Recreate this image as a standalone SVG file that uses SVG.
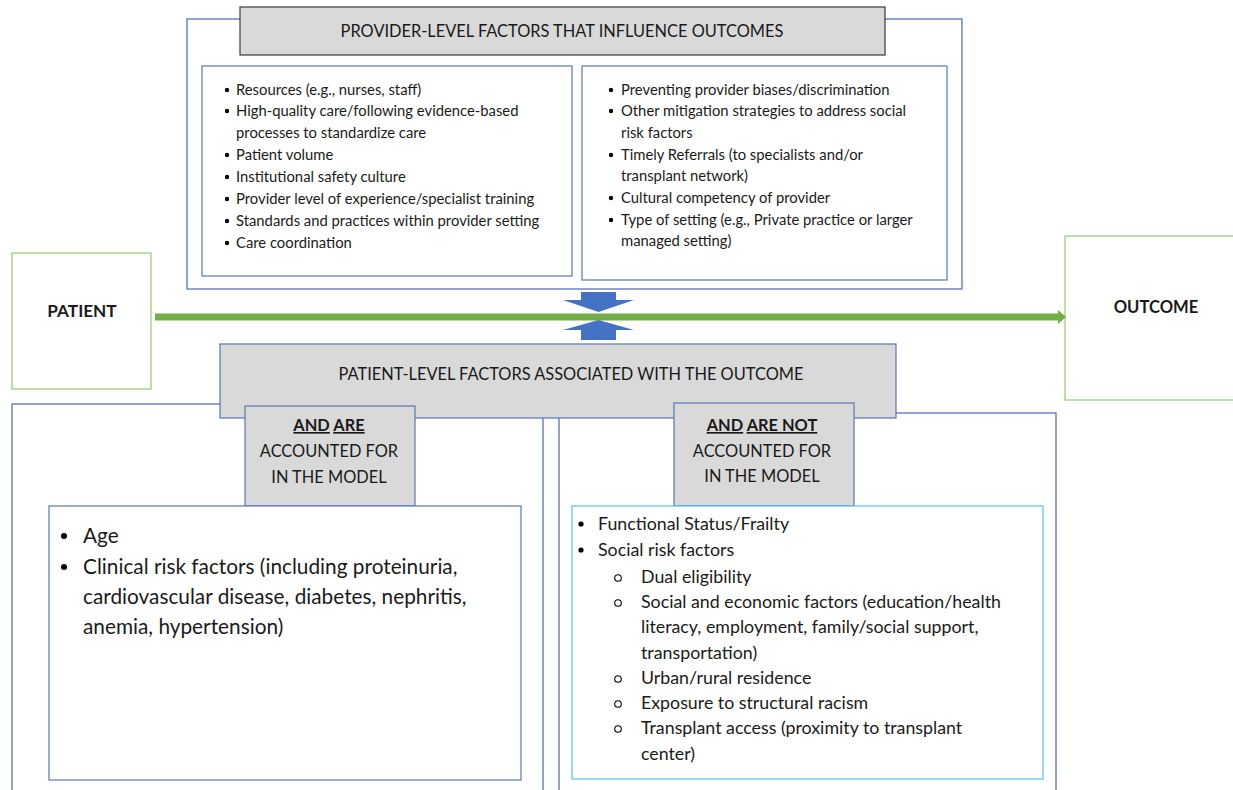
<svg xmlns="http://www.w3.org/2000/svg" width="1233" height="790" viewBox="0 0 1233 790">
<style>
text{font-family:Lato,"Liberation Sans",sans-serif;fill:#1a1a1a}
.outer{fill:#fff;stroke:#4a66ac;stroke-width:1.2}
.inner{fill:#fff;stroke:#5b76b4;stroke-width:1.2}
.hdr{fill:#d9d9d9;stroke:#5b76b4;stroke-width:1.2}
.thdr{fill:#d9d9d9;stroke:#3a3a3a;stroke-width:1.2}
.grn{fill:#fff;stroke:#92c86e;stroke-width:1.2}
.s13{font-size:14.8px}
.s15{font-size:16.4px}
.s16{font-size:16.4px}
.s17{font-size:17.8px}
.s19{font-size:20.8px}
.b{font-weight:bold}
.c{text-anchor:middle}
.u{text-decoration:underline}
</style>
<defs>
<g id="dot13"><circle r="2.2" fill="#000"/></g>
</defs>

<g id="provider">
<rect class="outer" x="187" y="19" width="775" height="270"/>
<rect class="thdr" x="240" y="7" width="645" height="48"/>
<text class="s15 c" x="562" y="37">PROVIDER-LEVEL FACTORS THAT INFLUENCE OUTCOMES</text>
</g>

<g id="provider-left">
<rect class="inner" x="202" y="66" width="370" height="210"/>
<g class="s13">
<use href="#dot13" x="227" y="90"/><text x="236" y="95">Resources (e.g., nurses, staff)</text>
<use href="#dot13" x="227" y="111"/><text x="236" y="116">High-quality  care/following evidence-based</text>
<text x="236" y="138">processes to standardize care</text>
<use href="#dot13" x="227" y="155"/><text x="236" y="160">Patient volume</text>
<use href="#dot13" x="227" y="177"/><text x="236" y="182">Institutional  safety culture</text>
<use href="#dot13" x="227" y="199"/><text x="236" y="204">Provider level of experience/specialist training</text>
<use href="#dot13" x="227" y="221"/><text x="236" y="226">Standards and practices within provider setting</text>
<use href="#dot13" x="227" y="243"/><text x="236" y="248">Care coordination</text>
</g>
</g>

<g id="provider-right">
<rect class="inner" x="582" y="66" width="365" height="214"/>
<g class="s13">
<use href="#dot13" x="611" y="90"/><text x="621" y="95">Preventing provider biases/discrimination</text>
<use href="#dot13" x="611" y="111"/><text x="621" y="116">Other mitigation  strategies to address social</text>
<text x="621" y="138">risk factors</text>
<use href="#dot13" x="611" y="155"/><text x="621" y="160">Timely Referrals (to specialists and/or</text>
<text x="621" y="181">transplant network)</text>
<use href="#dot13" x="611" y="198"/><text x="621" y="203">Cultural competency of provider</text>
<use href="#dot13" x="611" y="220"/><text x="621" y="225">Type of setting (e.g., Private practice or larger</text>
<text x="621" y="246">managed setting)</text>
</g>
</g>

<g id="patient">
<rect class="grn" x="12" y="253" width="139" height="136"/>
<text class="b c" style="font-size:17.2px" x="82" y="317">PATIENT</text>
</g>

<g id="outcome">
<rect class="grn" x="1065" y="236" width="175" height="164"/>
<text class="b c" style="font-size:16.6px" x="1156" y="313">OUTCOME</text>
</g>

<g id="connectors">
<path d="M155 313.5 H1058 V310 L1066 317 L1058 324 V320.5 H155 Z" fill="#70ad47"/>
<path d="M581 292 H616 V300 H634 L598.5 312 L563 300 H581 Z" fill="#4472c4"/>
<path d="M598.5 320 L634 330 H616 V340 H581 V330 H563 Z" fill="#4472c4"/>
</g>

<g id="accounted">
<rect class="outer" x="12" y="404" width="531" height="400"/>
</g>
<g id="not-accounted">
<rect class="outer" x="559" y="413" width="497" height="390"/>
</g>

<g id="patient-header">
<rect class="hdr" x="220" y="344" width="676" height="74"/>
<text class="s15 c" x="571" y="380">PATIENT-LEVEL FACTORS ASSOCIATED WITH THE OUTCOME</text>
</g>

<g id="are-label">
<rect class="hdr" x="245" y="406" width="170" height="100"/>
<text class="s16 c b" x="329" y="431"><tspan class="u">AND</tspan> <tspan class="u">ARE</tspan></text>
<text class="s16 c" x="329" y="457">ACCOUNTED FOR</text>
<text class="s16 c" x="329" y="483">IN THE MODEL</text>
</g>

<g id="are-not-label">
<rect class="hdr" x="674" y="403" width="180" height="103"/>
<text class="s16 c b" x="762" y="431"><tspan class="u">AND</tspan> <tspan class="u">ARE NOT</tspan></text>
<text class="s16 c" x="762" y="457">ACCOUNTED FOR</text>
<text class="s16 c" x="762" y="482">IN THE MODEL</text>
</g>

<g id="accounted-list">
<rect class="inner" x="49" y="506" width="472" height="274"/>
<g class="s19">
<circle cx="64" cy="536" r="3" fill="#000"/><text x="83" y="543">Age</text>
<circle cx="64" cy="567" r="3" fill="#000"/><text x="83" y="574">Clinical  risk factors (including proteinuria,</text>
<text x="83" y="604">cardiovascular disease, diabetes, nephritis,</text>
<text x="83" y="634">anemia, hypertension)</text>
</g>
</g>

<g id="not-accounted-list">
<rect x="572" y="506" width="471" height="273" fill="#fff" stroke="#4fc3ea" stroke-width="1.2"/>
<g class="s17">
<circle cx="581" cy="524" r="2.6" fill="#000"/><text x="598" y="530">Functional Status/Frailty</text>
<circle cx="581" cy="550" r="2.6" fill="#000"/><text x="598" y="556">Social risk factors</text>
<circle cx="618" cy="578" r="3.3" fill="none" stroke="#000" stroke-width="1.1"/><text x="641" y="582.5">Dual eligibility</text>
<circle cx="618" cy="603" r="3.3" fill="none" stroke="#000" stroke-width="1.1"/><text x="641" y="607.5">Social and economic factors (education/health</text>
<text x="641" y="633">literacy, employment, family/social support,</text>
<text x="641" y="659">transportation)</text>
<circle cx="618" cy="679" r="3.3" fill="none" stroke="#000" stroke-width="1.1"/><text x="641" y="684">Urban/rural residence</text>
<circle cx="618" cy="704" r="3.3" fill="none" stroke="#000" stroke-width="1.1"/><text x="641" y="709">Exposure to structural racism</text>
<circle cx="618" cy="729" r="3.3" fill="none" stroke="#000" stroke-width="1.1"/><text x="641" y="734">Transplant access (proximity to transplant</text>
<text x="641" y="760">center)</text>
</g>
</g>
</svg>
